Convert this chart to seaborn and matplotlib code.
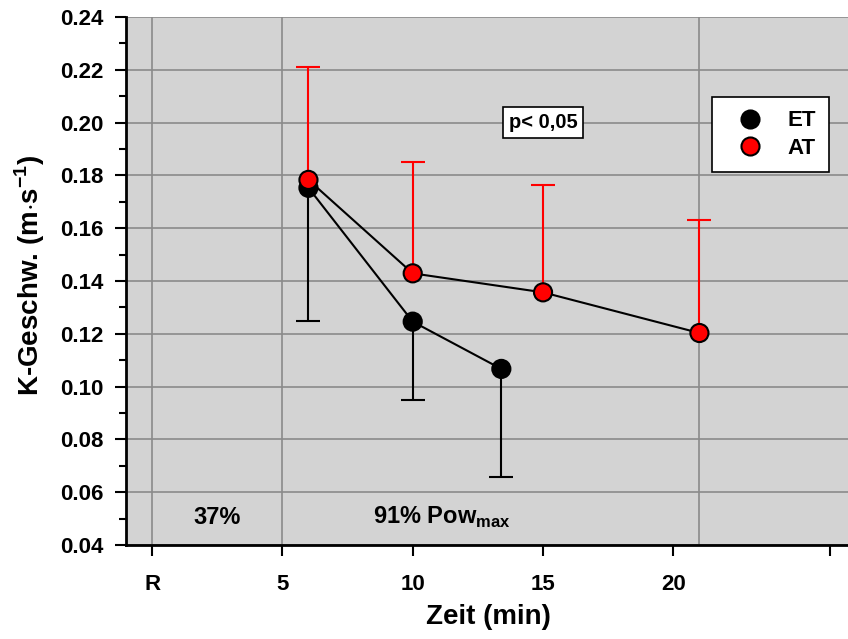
import numpy as np
import pandas as pd
import matplotlib
matplotlib.use("Agg")
import matplotlib.pyplot as plt
from matplotlib.ticker import MultipleLocator
from matplotlib.lines import Line2D
import seaborn as sns

# --- data ---
zeit_et = [6, 10, 13.4]
kg_et = [0.1753, 0.1246, 0.1067]
sd_et = [0.0503, 0.0296, 0.0409]     # drawn downwards

zeit_at = [6, 10, 15, 21]
kg_at = [0.1783, 0.1429, 0.1357, 0.1203]
sd_at = [0.0428, 0.0423, 0.0408, 0.0428]  # drawn upwards

x_ticks = [0, 5, 10, 15, 20, 26]
x_tick_labels = ['R', '5', '10', '15', '20', '']
phase_lines = [0, 5, 21]

df = pd.concat([
    pd.DataFrame({'zeit': zeit_et, 'kg': kg_et, 'gruppe': 'ET'}),
    pd.DataFrame({'zeit': zeit_at, 'kg': kg_at, 'gruppe': 'AT'}),
], ignore_index=True)

sns.set_style("ticks")
plt.rcParams['font.family'] = ['Liberation Sans', 'DejaVu Sans']
plt.rcParams['font.weight'] = 'bold'
plt.rcParams['mathtext.fontset'] = 'custom'
plt.rcParams['mathtext.rm'] = 'Liberation Sans:bold'
plt.rcParams['mathtext.bf'] = 'Liberation Sans:bold'
for k in ['text.color', 'axes.labelcolor', 'xtick.color', 'ytick.color']:
    plt.rcParams[k] = 'black'

fig = plt.figure(figsize=(8.48, 6.39), dpi=100)
ax = fig.add_axes([126 / 848, 94 / 639, 722 / 848, 528 / 639])
ax.set_facecolor('#d3d3d3')

# grid
for y in np.arange(0.04, 0.2401, 0.02):
    ax.axhline(y, color='#8a8a8a', lw=1.2, zorder=0)
for x in phase_lines:
    ax.axvline(x, color='#8a8a8a', lw=1.2, zorder=0)

# one-sided error bars: bar from the mean, cap only at the far end
et_low = np.array(kg_et) - np.array(sd_et)
at_high = np.array(kg_at) + np.array(sd_at)
ax.vlines(zeit_et, et_low, kg_et, color='black', lw=1.5, zorder=2)
ax.plot(zeit_et, et_low, ls='none', marker='_', markersize=17,
        markeredgewidth=1.5, color='black', zorder=2)
ax.vlines(zeit_at, kg_at, at_high, color='red', lw=1.5, zorder=2)
ax.plot(zeit_at, at_high, ls='none', marker='_', markersize=17,
        markeredgewidth=1.5, color='red', zorder=2)

# connecting lines
for g in ['ET', 'AT']:
    sns.lineplot(data=df[df['gruppe'] == g], x='zeit', y='kg', color='black',
                 lw=1.5, ax=ax, zorder=3, legend=False)

# markers
sns.scatterplot(data=df, x='zeit', y='kg', hue='gruppe',
                palette={'ET': 'black', 'AT': 'red'}, s=170,
                edgecolor='black', linewidth=1.5, ax=ax, zorder=4, legend=False)

ax.set_xlim(-1, 26.7)
ax.set_ylim(0.04, 0.24)
ax.set_xticks(x_ticks)
ax.set_xticklabels(x_tick_labels)
ax.set_yticks(np.arange(0.04, 0.2401, 0.02))
ax.set_yticklabels([f'{v:.2f}' for v in np.arange(0.04, 0.2401, 0.02)])
ax.yaxis.set_minor_locator(MultipleLocator(0.01))

ax.tick_params(axis='y', which='major', direction='out', length=8, width=1.5,
               labelsize=16, pad=8)
ax.tick_params(axis='y', which='minor', direction='out', length=5, width=1.5)
ax.tick_params(axis='x', which='major', direction='out', length=8, width=1.5,
               labelsize=16, pad=13)
for lab in ax.get_xticklabels() + ax.get_yticklabels():
    lab.set_fontweight('bold')

for s in ['top', 'right']:
    ax.spines[s].set_visible(False)
for s in ['left', 'bottom']:
    ax.spines[s].set_color('black')
    ax.spines[s].set_linewidth(2)

ax.set_xlabel('Zeit (min)', fontsize=20, fontweight='bold')
ax.set_ylabel(r'K-Geschw. (m$\cdot$s$^{\mathbf{-1}}$)', fontsize=20,
              fontweight='bold')
ax.xaxis.set_label_coords((488 - 126) / 722, -0.112)
ax.yaxis.set_label_coords(-0.11, 0.51)

# annotations
ax.text(2.5, 0.0505, '37%', fontsize=17, fontweight='bold',
        ha='center', va='center')
ax.text(11.1, 0.0505, r'91% Pow$_{\mathbf{max}}$', fontsize=17,
        fontweight='bold', ha='center', va='center')
ax.text(15, 0.2, 'p< 0,05', fontsize=14.5, fontweight='bold', ha='center',
        va='center', bbox=dict(boxstyle='square,pad=0.3', fc='white',
                               ec='black', lw=1.2), zorder=5)

handles = [
    Line2D([], [], ls='none', marker='o', markersize=13, markerfacecolor='black',
           markeredgecolor='black', markeredgewidth=1.5),
    Line2D([], [], ls='none', marker='o', markersize=13, markerfacecolor='red',
           markeredgecolor='black', markeredgewidth=1.5),
]
leg = ax.legend(handles, ['ET', 'AT'], loc='upper left',
                bbox_to_anchor=((712 - 126) / 722, (545 - 97) / 528),
                frameon=True, fancybox=False, framealpha=1,
                edgecolor='black', fontsize=16, handletextpad=0.6,
                labelspacing=0.3, borderpad=0.6, handlelength=2.2,
                borderaxespad=0)
leg.get_frame().set_linewidth(1.2)
for t in leg.get_texts():
    t.set_fontweight('bold')

fig.savefig('out.png', dpi=100)
